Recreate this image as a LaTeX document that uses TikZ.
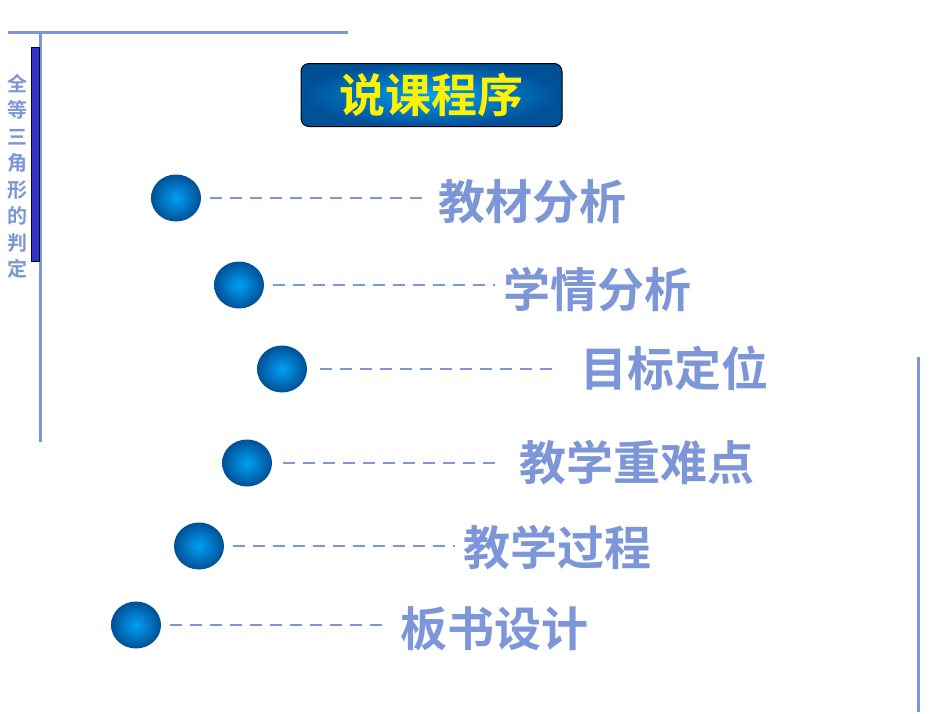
\documentclass[tikz,border=0pt]{standalone}
\usepackage{fontspec}
\newfontfamily\cjk{Noto Sans CJK SC Bold}
\usetikzlibrary{shapes.geometric}
\definecolor{lb}{RGB}{125,150,215}
\definecolor{ballc}{RGB}{0,160,245}
\definecolor{balld}{RGB}{0,80,150}
\tikzset{
 ball/.style={ellipse,minimum width=50pt,minimum height=47pt,inner sep=0pt,inner color=ballc,outer color=balld},
 dline/.style={lb,line width=2.6pt,dash pattern=on 12pt off 8pt},
 item/.style={anchor=west,text=lb,font=\cjk\fontsize{47}{50}\selectfont,inner sep=0pt},
 frame/.style={lb,line width=3pt}
}
\begin{document}
\begin{tikzpicture}[x=1pt,y=-1pt]
\useasboundingbox (0,0) rectangle (950,713);
\coordinate (t1) at (8,32); \coordinate (t2) at (348,32);
\coordinate (v1) at (40,32); \coordinate (v2) at (40,442);
\coordinate (r1) at (918,357); \coordinate (r2) at (918,712);
\draw[frame] (t1)--(t2);
\draw[frame] (v1)--(v2);
\draw[frame] (r1)--(r2);
\draw[fill={rgb,255:red,50;green,50;blue,200},draw=black,line width=0.8pt] (31,47) rectangle (39,261);
\node[text=lb,font=\cjk\fontsize{20}{26.5}\selectfont,align=center,anchor=north,inner sep=0pt] (side) at (17,74) {全\\等\\三\\角\\形\\的\\判\\定};
\node[rounded corners=8pt,draw=black,line width=1pt,inner color=ballc,outer color=balld,minimum width=261pt,minimum height=63pt,text=yellow,font=\cjk\fontsize{46}{48}\selectfont] (title) at (431.5,95) {说课程序};
\foreach \i/\bx/\by/\dx/\ex/\tx/\ty/\txt in {
 1/176/198/210/430/438/202/教材分析,
 2/239/285/273/495/503/289/学情分析,
 3/282/369/320/560/580/368/目标定位,
 4/247/463/283/500/519/463/教学重难点,
 5/199/546/233/455/463/548/教学过程,
 6/136/625/170/390/400/629/板书设计}{
 \node[ball] (b\i) at (\bx,\by) {};
 \coordinate (e\i) at (\ex,\by);
 \node[item] (l\i) at (\tx,\ty) {\txt};
 \draw[dline] (\dx,\by) -- (e\i);
}
\end{tikzpicture}
\end{document}
